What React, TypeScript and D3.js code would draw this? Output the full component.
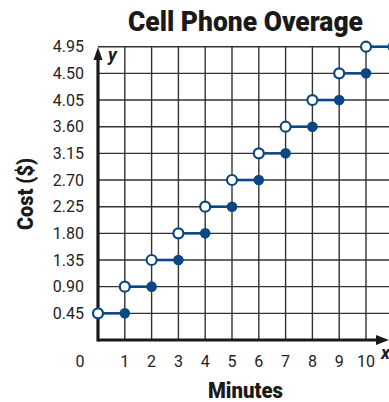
import { useEffect, useRef } from 'react';
import * as d3 from 'd3';

const minutes = [0, 1, 2, 3, 4, 5, 6, 7, 8, 9, 10];
const costs = [0.45, 0.9, 1.35, 1.8, 2.25, 2.7, 3.15, 3.6, 4.05, 4.5, 4.95];
const xTicks = [1, 2, 3, 4, 5, 6, 7, 8, 9, 10];
const yTicks = ['0.45', '0.90', '1.35', '1.80', '2.25', '2.70', '3.15', '3.60', '4.05', '4.50', '4.95'];

export default function App() {
  const svgRef = useRef<SVGSVGElement>(null);

  const width = 389;
  const height = 402;

  useEffect(() => {
    const svg = d3.select(svgRef.current);
    svg.selectAll('*').remove();

    const navy = '#0b4785';
    const font = "Roboto, 'DejaVu Sans', sans-serif";

    const x = d3.scaleLinear().domain([0, 11]).range([98, 392.8]);
    const y = d3.scaleLinear().domain([0, 4.95]).range([340, 46.7]);

    // grade
    const grid = svg.append('g').attr('stroke', '#333').attr('stroke-width', 1.4);
    grid.selectAll('line.v')
      .data(xTicks.concat([11]))
      .enter().append('line')
      .attr('x1', d => x(d)).attr('x2', d => x(d))
      .attr('y1', y(0)).attr('y2', y(4.95));
    grid.selectAll('line.h')
      .data(yTicks.map(Number))
      .enter().append('line')
      .attr('x1', x(0)).attr('x2', width)
      .attr('y1', d => y(d)).attr('y2', d => y(d));

    // eixos com setas
    svg.append('line')
      .attr('x1', x(0)).attr('x2', 380)
      .attr('y1', y(0)).attr('y2', y(0))
      .attr('stroke', '#1a1a1a').attr('stroke-width', 3.2);
    svg.append('path')
      .attr('d', `M389,${y(0)} L376,${y(0) - 5} L376,${y(0) + 5} Z`)
      .attr('fill', '#1a1a1a');
    svg.append('line')
      .attr('x1', x(0)).attr('x2', x(0))
      .attr('y1', y(0) + 1.6).attr('y2', 58)
      .attr('stroke', '#1a1a1a').attr('stroke-width', 3.2);
    svg.append('path')
      .attr('d', `M${x(0)},47 L${x(0) - 4.5},60 L${x(0) + 4.5},60 Z`)
      .attr('fill', '#1a1a1a');

    svg.append('text')
      .attr('x', 108).attr('y', 61)
      .attr('font-family', font).attr('font-style', 'italic').attr('font-weight', 'bold')
      .attr('font-size', 18).attr('fill', '#1a1a1a')
      .text('y');
    svg.append('text')
      .attr('x', 381).attr('y', 359)
      .attr('font-family', font).attr('font-style', 'italic').attr('font-weight', 'bold')
      .attr('font-size', 18).attr('fill', '#1a1a1a')
      .text('x');

    // degraus
    const steps = svg.append('g');
    steps.selectAll('line')
      .data(minutes)
      .enter().append('line')
      .attr('x1', d => x(d)).attr('x2', d => x(d + 1))
      .attr('y1', (d, i) => y(costs[i])).attr('y2', (d, i) => y(costs[i]))
      .attr('stroke', navy).attr('stroke-width', 2.6);
    steps.selectAll('circle.closed')
      .data(minutes)
      .enter().append('circle')
      .attr('cx', d => x(d + 1))
      .attr('cy', (d, i) => y(costs[i]))
      .attr('r', 5.3)
      .attr('fill', navy);
    steps.selectAll('circle.open')
      .data(minutes)
      .enter().append('circle')
      .attr('cx', d => x(d))
      .attr('cy', (d, i) => y(costs[i]))
      .attr('r', 5)
      .attr('fill', 'white')
      .attr('stroke', navy).attr('stroke-width', 2.2);

    // rótulos dos eixos
    svg.append('g')
      .selectAll('text')
      .data(yTicks)
      .enter().append('text')
      .attr('x', 84)
      .attr('y', d => y(Number(d)) + 5.5)
      .attr('text-anchor', 'end')
      .attr('font-family', font).attr('font-size', 16).attr('fill', '#222')
      .text(d => d);
    svg.append('g')
      .selectAll('text')
      .data(xTicks)
      .enter().append('text')
      .attr('x', d => x(d))
      .attr('y', 367)
      .attr('text-anchor', 'middle')
      .attr('font-family', font).attr('font-size', 16).attr('fill', '#222')
      .text(d => d);
    svg.append('text')
      .attr('x', 80).attr('y', 367)
      .attr('text-anchor', 'middle')
      .attr('font-family', font).attr('font-size', 16).attr('fill', '#222')
      .text('0');

    svg.append('text')
      .attr('x', 128).attr('y', 31)
      .attr('textLength', 235).attr('lengthAdjust', 'spacingAndGlyphs')
      .attr('font-family', font).attr('font-weight', 900)
      .attr('font-size', 28).attr('fill', '#1a1a1a')
      .text('Cell Phone Overage');
    svg.append('text')
      .attr('x', 208).attr('y', 398)
      .attr('textLength', 75).attr('lengthAdjust', 'spacingAndGlyphs')
      .attr('font-family', font).attr('font-weight', 900)
      .attr('font-size', 22).attr('fill', '#1a1a1a')
      .text('Minutes');
    svg.append('text')
      .attr('transform', 'translate(33,230) rotate(-90)')
      .attr('textLength', 72).attr('lengthAdjust', 'spacingAndGlyphs')
      .attr('font-family', font).attr('font-weight', 900)
      .attr('font-size', 22).attr('fill', '#1a1a1a')
      .text('Cost ($)');
  }, []);

  return (
    <div style={{ position: 'absolute', top: 0, left: 0, width, height, background: 'white' }}>
      <svg ref={svgRef} width={width} height={height} style={{ display: 'block' }} />
    </div>
  );
}
